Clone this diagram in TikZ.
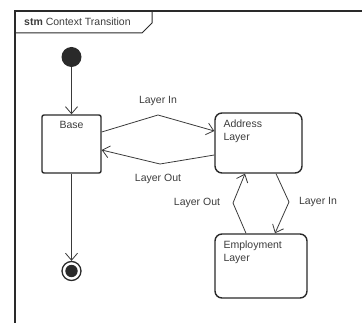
\documentclass[tikz,border=0pt]{standalone}
\usepackage{fontspec}
\setmainfont{Liberation Sans}
\usetikzlibrary{arrows.meta,calc}
\definecolor{inkline}{HTML}{3A3A3A}
\definecolor{inkbox}{HTML}{2A2A2A}
\definecolor{inktext}{HTML}{3C3C3C}
\begin{document}
\begin{tikzpicture}[x=1pt,y=-1pt,
  every node/.style={font=\fontsize{10.5}{13}\selectfont, text=inktext},
  statebox/.style={draw=inkbox, line width=1.4pt, rounded corners=2pt, fill=white, inner sep=0pt},
  layerbox/.style={draw=inkbox, line width=1.4pt, rounded corners=7pt, fill=white, inner sep=0pt},
  boxtext/.style={anchor=north west, inner sep=0pt, align=left, xshift=9pt, yshift=-7pt},
  trans/.style={draw=inkline, line width=0.8pt, -{Straight Barb[length=7pt,width=12pt]}},
  translabel/.style={inner sep=1pt}]
  \useasboundingbox (0,0) rectangle (362,323);
  % diagram frame with its name tab
  \draw[inkbox, line width=1.3pt] (362,11) -- (15,11) -- (15,323);
  \draw[inkbox, line width=1pt] (152,11) -- (152,23) -- (142,33) -- (15,33);
  \node[anchor=west, inner sep=0pt] (title) at (24,22) {\textbf{stm} Context Transition};

  % initial and final pseudostates
  \node[circle, fill=inkbox, minimum size=20pt, inner sep=0pt] (init) at (71.5,57) {};
  \node[circle, draw=inkbox, line width=1.3pt, minimum size=19pt, inner sep=0pt] (final) at (71.5,271) {};
  \fill[inkbox] (final.center) circle (6.2pt);

  % states
  \node[statebox, minimum width=59pt, minimum height=58pt] (base) at (71.5,144) {};
  \node[anchor=north, inner sep=0pt] (basetext) at ([yshift=-7pt]base.north) {Base};
  \node[layerbox, minimum width=87pt, minimum height=60pt] (addr) at (258.5,143) {};
  \node[boxtext] (addrtext) at (addr.north west) {Address\\Layer};
  \node[layerbox, minimum width=92pt, minimum height=64pt] (emp) at (261,266) {};
  \node[boxtext] (emptext) at (emp.north west) {Employment\\Layer};

  % bend points of the transitions
  \coordinate (inbend) at (158,115);
  \coordinate (outbend) at (160,164);
  \coordinate (downbend) at (289,202);
  \coordinate (upbend) at (233,203);

  % transitions
  \draw[trans] (init) -- (base);
  \draw[trans] (base) -- (final);
  \draw[trans] ([yshift=12pt]base.east) -- (inbend) -- ([yshift=12pt]addr.west);
  \draw[trans] ([yshift=-12pt]addr.west) -- (outbend) -- ([yshift=-6pt]base.east);
  \draw[trans] ([xshift=17.5pt]addr.south) -- (downbend) -- ([xshift=14pt]emp.north);
  \draw[trans] ([xshift=-15pt]emp.north) -- (upbend) -- ([xshift=-13.5pt]addr.south);

  % transition labels
  \node[translabel] (lin1) at (158,101) {Layer In};
  \node[translabel] (lout1) at (158,179) {Layer Out};
  \node[translabel] (lout2) at (197,203) {Layer Out};
  \node[translabel] (lin2) at (318,202) {Layer In};
\end{tikzpicture}
\end{document}
